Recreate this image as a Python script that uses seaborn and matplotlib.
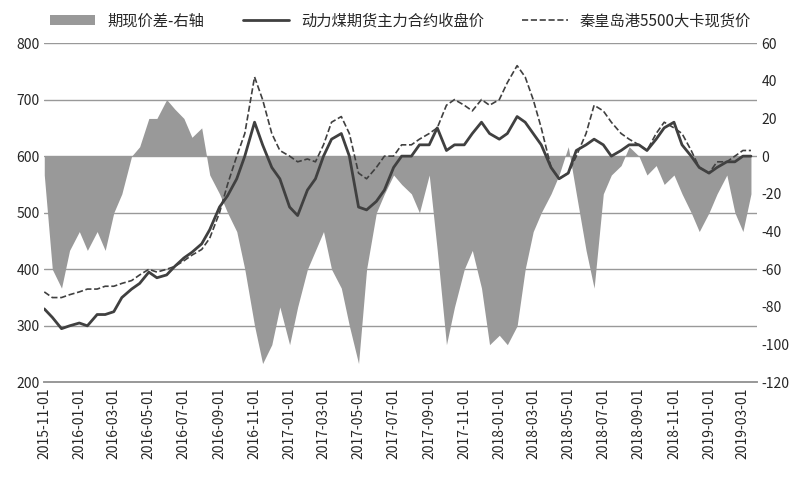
import pandas as pd
import numpy as np
import matplotlib
matplotlib.use("Agg")
import matplotlib.pyplot as plt
import matplotlib.dates as mdates
import seaborn as sns

sns.set(style="white")
plt.rcParams["font.family"] = "Noto Sans CJK SC"
plt.rcParams["axes.unicode_minus"] = False

# semi-monthly dates, 2015-11-01 .. 2019-03-15
dates = pd.date_range("2015-11-01", "2019-03-15", freq="SMS")

futures = [330, 315, 295, 300,
           305, 300, 320, 320, 325, 350, 365, 375, 395, 385, 390, 405, 420, 430, 445, 470, 510, 530, 560, 600, 660, 620, 580, 560,
           510, 495, 540, 560, 600, 630, 640, 600, 510, 505, 520, 540, 580, 600, 600, 620, 620, 650, 610, 620, 620, 640, 660, 640,
           630, 640, 670, 660, 640, 620, 580, 560, 570, 610, 620, 630, 620, 600, 610, 620, 620, 610, 630, 650, 660, 620, 600, 580,
           570, 580, 590, 590, 600, 600]
spot = [360, 350, 350, 355,
        360, 365, 365, 370, 370, 375, 380, 390, 400, 395, 400, 405, 415, 425, 435, 455, 500, 550, 600, 640, 740, 700, 640, 610,
        600, 590, 595, 590, 620, 660, 670, 640, 570, 560, 580, 600, 600, 620, 620, 630, 640, 650, 690, 700, 690, 680, 700, 690,
        700, 730, 760, 740, 700, 650, 580, 560, 570, 600, 640, 690, 680, 660, 640, 630, 620, 610, 640, 660, 650, 640, 610, 580,
        570, 590, 590, 600, 610, 610]
spread = [-10, -60, -70, -50,
          -40, -50, -40, -50, -30, -20, 0, 5, 20, 20, 30, 25, 20, 10, 15, -10, -20, -30, -40, -60, -90, -110, -100, -80,
          -100, -80, -60, -50, -40, -60, -70, -90, -110, -60, -30, -20, -10, -15, -20, -30, -10, -50, -100, -80, -60, -50, -70, -100,
          -95, -100, -90, -60, -40, -30, -20, -10, 5, -20, -50, -70, -20, -10, -5, 5, 0, -10, -5, -15, -10, -20, -30, -40,
          -30, -20, -10, -30, -40, -20]

df = pd.DataFrame({"date": dates, "futures": futures, "spot": spot, "spread": spread})

fig, ax = plt.subplots(figsize=(8.05, 4.78), dpi=100)
ax2 = ax.twinx()

ax2.fill_between(df["date"], 0, df["spread"], color="#999999", lw=0, label="期现价差-右轴")
ax2.set_ylim(-120, 60)
ax2.set_yticks(range(-120, 61, 20))

ax.set_zorder(ax2.get_zorder() + 1)
ax.patch.set_visible(False)
sns.lineplot(data=df, x="date", y="futures", ax=ax, color="#404040", lw=2, label="动力煤期货主力合约收盘价")
sns.lineplot(data=df, x="date", y="spot", ax=ax, color="#404040", lw=1.2, ls="--", label="秦皇岛港5500大卡现货价")
ax.set_ylim(200, 800)
ax.set_yticks(range(200, 801, 100))
ax.grid(axis="y", color="#999999", lw=1)
ax.set_xlim(pd.Timestamp("2015-11-01"), pd.Timestamp("2019-03-25"))
ax.xaxis.set_major_locator(mdates.MonthLocator(bymonth=[1, 3, 5, 7, 9, 11]))
ax.xaxis.set_major_formatter(mdates.DateFormatter("%Y-%m-%d"))
plt.setp(ax.get_xticklabels(), rotation=90)
ax.set_xlabel("")
ax.set_ylabel("")

for a in (ax, ax2):
    for s in ("top", "right", "left"):
        a.spines[s].set_visible(False)
    a.spines["bottom"].set_color("#999999")
    a.tick_params(labelsize=10, length=0)

h1, l1 = ax2.get_legend_handles_labels()
h2, l2 = ax.get_legend_handles_labels()
ax.legend(h1 + h2, l1 + l2, loc="lower center", bbox_to_anchor=(0.5, 1.0), ncol=3,
          frameon=False, fontsize=11, handlelength=3, columnspacing=2.5)

fig.subplots_adjust(left=0.055, right=0.94, top=0.91, bottom=0.2)
fig.savefig("out.png", dpi=100)
